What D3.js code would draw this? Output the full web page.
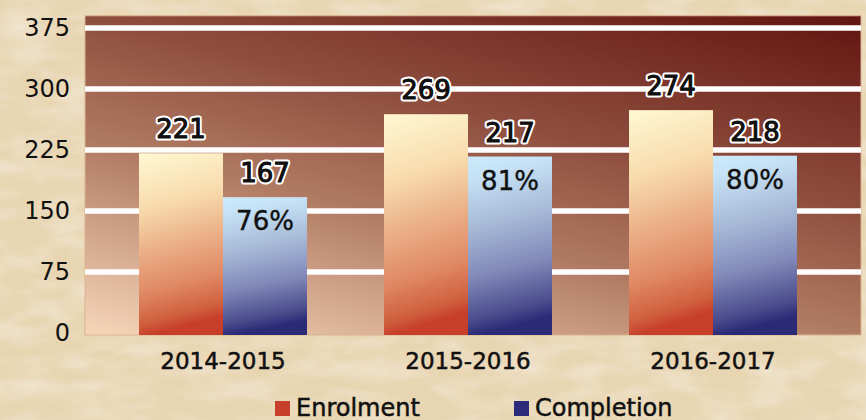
<!DOCTYPE html>
<html>
<head>
<meta charset="utf-8">
<script src="https://cdn.jsdelivr.net/npm/d3@7"></script>
<style>
  html, body { margin: 0; padding: 0; background: #ebd8b6; }
  svg { display: block; }
</style>
</head>
<body>
<svg id="chart" width="866" height="420"></svg>
<script>
const categories = ["2014-2015", "2015-2016", "2016-2017"];
const series = ["Enrolment", "Completion"];
const enrolment = [221, 269, 274];
const completion = [167, 217, 218];
const completionPct = ["76%", "81%", "80%"];
const yTicks = [0, 75, 150, 225, 300, 375];

const svg = d3.select("#chart");
const W = 866, H = 420;
const font = "'DejaVu Sans', sans-serif";

const defs = svg.append("defs");

// parchment texture
const f = defs.append("filter").attr("id", "paper").attr("x", 0).attr("y", 0).attr("width", 1).attr("height", 1);
f.append("feTurbulence").attr("type", "fractalNoise").attr("baseFrequency", "0.02 0.05").attr("numOctaves", 3).attr("seed", 11).attr("result", "n");
f.append("feColorMatrix").attr("in", "n").attr("type", "matrix")
  .attr("values", "0 0 0 0 0.95  0 0 0 0 0.90  0 0 0 0 0.82  0 0 0 -0.9 0.55").attr("result", "c");
f.append("feComposite").attr("in", "c").attr("in2", "SourceGraphic").attr("operator", "over");

const y = d3.scaleLinear().domain([0, 375]).range([333, 28]);
const x0 = d3.scaleBand().domain(categories).range([139, 797]).paddingInner(77 / 245).paddingOuter(0);
const x1 = d3.scaleBand().domain(series).range([0, x0.bandwidth()]);

const plotL = 85, plotR = 861, plotT = y(390), plotB = y(0) + 2;

// plot gradient
const pg = defs.append("linearGradient").attr("id", "plotGrad").attr("gradientUnits", "userSpaceOnUse")
  .attr("x1", plotR).attr("y1", plotT).attr("x2", plotR - 121).attr("y2", plotT + 483);
[[0, "#621410"], [0.38, "#8e4e3e"], [0.62, "#b07a62"], [1, "#f6d6ba"]].forEach(s =>
  pg.append("stop").attr("offset", s[0]).attr("stop-color", s[1]));

const eg = defs.append("linearGradient").attr("id", "enrGrad").attr("x1", 0).attr("y1", 0).attr("x2", 0.12).attr("y2", 1);
[[0, "#fff8d2"], [0.3, "#f8dcae"], [0.54, "#ebb088"], [0.76, "#e08a66"], [0.93, "#d0603f"], [1, "#c73e2b"]].forEach(s =>
  eg.append("stop").attr("offset", s[0]).attr("stop-color", s[1]));
const cg = defs.append("linearGradient").attr("id", "cmpGrad").attr("x1", 0).attr("y1", 0).attr("x2", 0.12).attr("y2", 1);
[[0, "#cdeafc"], [0.12, "#c6e2f6"], [0.39, "#a8bcd8"], [0.68, "#8088b8"], [0.91, "#4a4c8c"], [1, "#2a2a76"]].forEach(s =>
  cg.append("stop").attr("offset", s[0]).attr("stop-color", s[1]));

// background
svg.append("rect").attr("width", W).attr("height", H).attr("fill", "#e8d5b1").attr("filter", "url(#paper)");

// plot area
svg.append("rect").attr("x", plotL).attr("y", plotT).attr("width", plotR - plotL).attr("height", plotB - plotT)
  .attr("fill", "url(#plotGrad)").attr("stroke", "#d9b48e").attr("stroke-width", 1);

// gridlines
svg.append("g").selectAll("line").data(yTicks.filter(d => d > 0)).join("line")
  .attr("x1", plotL).attr("x2", plotR).attr("y1", d => y(d)).attr("y2", d => y(d))
  .attr("stroke", "#ffffff").attr("stroke-width", 5.5);

// y axis
const yAxis = d3.axisLeft(y).tickValues(yTicks).tickSize(0).tickPadding(0);
const ya = svg.append("g").attr("transform", "translate(70,0)").call(yAxis);
ya.select(".domain").remove();
ya.selectAll("text").attr("font-family", font).attr("font-size", 24).attr("fill", "#111").attr("dy", "0.32em");

// x axis
const xAxis = d3.axisBottom(x0).tickSize(0).tickPadding(0);
const xa = svg.append("g").attr("transform", "translate(0,353)").call(xAxis);
xa.select(".domain").remove();
xa.selectAll("text").attr("font-family", font).attr("font-size", 23).attr("fill", "#111")
  .attr("dy", "0.71em").attr("stroke", "#111").attr("stroke-width", 0.5);

// bars
const rows = categories.map((c, i) => ({ cat: c, vals: [
  { s: "Enrolment", v: enrolment[i], fill: "url(#enrGrad)" },
  { s: "Completion", v: completion[i], fill: "url(#cmpGrad)", pct: completionPct[i] }
]}));

const groups = svg.append("g").selectAll("g").data(rows).join("g")
  .attr("transform", d => `translate(${x0(d.cat)},0)`);

groups.selectAll("rect").data(d => d.vals).join("rect")
  .attr("x", d => x1(d.s)).attr("width", x1.bandwidth())
  .attr("y", d => y(d.v)).attr("height", d => y(0) + 2 - y(d.v))
  .attr("fill", d => d.fill);

// value labels
groups.selectAll("text.val").data(d => d.vals).join("text").attr("class", "val")
  .attr("x", d => x1(d.s) + x1.bandwidth() / 2).attr("y", d => y(d.v) - 15)
  .attr("text-anchor", "middle").attr("font-family", font).attr("font-size", 26)
  .attr("fill", "#111").attr("stroke", "#ffffff").attr("stroke-width", 5)
  .attr("stroke-linejoin", "round").attr("paint-order", "stroke")
  .text(d => d.v);
groups.selectAll("text.valb").data(d => d.vals).join("text").attr("class", "valb")
  .attr("x", d => x1(d.s) + x1.bandwidth() / 2).attr("y", d => y(d.v) - 15)
  .attr("text-anchor", "middle").attr("font-family", font).attr("font-size", 26)
  .attr("fill", "#111").attr("stroke", "#111").attr("stroke-width", 0.9)
  .text(d => d.v);

// percentage labels
groups.selectAll("text.pct").data(d => d.vals.filter(v => v.pct)).join("text").attr("class", "pct")
  .attr("x", d => x1(d.s) + x1.bandwidth() / 2).attr("y", d => y(d.v) + 33)
  .attr("text-anchor", "middle").attr("font-family", font).attr("font-size", 26)
  .attr("fill", "#111").attr("stroke", "#111").attr("stroke-width", 0.4).text(d => d.pct);

// legend
const legendColors = ["#c8402c", "#2b2a7b"];
const legendX = [275, 514];
const lg = svg.append("g").selectAll("g").data(series).join("g")
  .attr("transform", (d, i) => `translate(${legendX[i]},401)`);
lg.append("rect").attr("width", 15).attr("height", 15).attr("fill", (d, i) => legendColors[i]);
lg.append("text").attr("x", 21).attr("y", 14.5).attr("font-family", font).attr("font-size", 24)
  .attr("fill", "#111").attr("stroke", "#111").attr("stroke-width", 0.5).text(d => d);
</script>
</body>
</html>
